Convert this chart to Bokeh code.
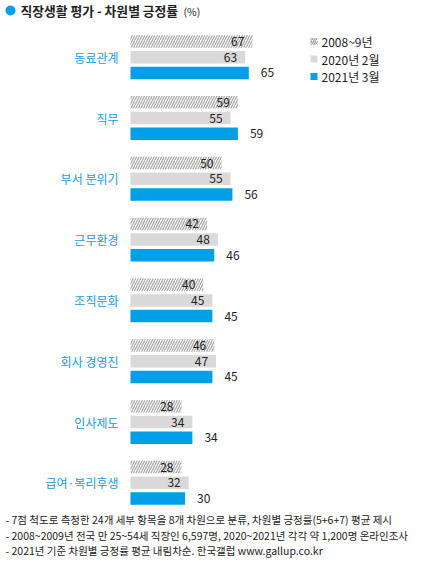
from bokeh.plotting import figure
from bokeh.models import Range1d, ColumnDataSource
from bokeh.core.properties import value
from bokeh.embed import file_html
from bokeh.resources import INLINE

categories = ["동료관계", "직무", "부서 분위기", "근무환경", "조직문화", "회사 경영진", "인사제도", "급여·복리후생"]
v2008 = [67, 59, 50, 42, 40, 46, 28, 28]
v2020 = [63, 55, 55, 48, 45, 47, 34, 32]
v2021 = [65, 59, 56, 46, 45, 45, 34, 30]
series = ["2008~9년", "2020년 2월", "2021년 3월"]
title = "직장생활 평가 - 차원별 긍정률"
title_unit = "(%)"
notes = [
    "- 7점 척도로 측정한 24개 세부 항목을 8개 차원으로 분류, 차원별 긍정률(5+6+7) 평균 제시",
    "- 2008~2009년 전국 만 25~54세 직장인 6,597명, 2020~2021년 각각 약 1,200명 온라인조사",
    "- 2021년 기준 차원별 긍정률 평균 내림차순. 한국갤럽 www.gallup.co.kr",
]

FONT = value("Noto Sans CJK KR")
BLUE = "#00a0e9"
GRAY = "#d9d9d9"
HATCH = "#ababab"
LBL = "#1a9be2"
TXT = "#222222"

W, H = 419, 558
X0 = 130.0      # pixel of value 0
PX = 1.82       # pixels per unit

def px(xpix):
    return (xpix - X0) / PX

p = figure(width=W, height=H, output_backend="svg", toolbar_location=None,
           x_range=Range1d(px(0), px(W)), y_range=Range1d(H, 0),
           min_border=0, outline_line_color=None)
p.xaxis.visible = False
p.yaxis.visible = False
p.grid.visible = False
p.background_fill_color = "white"
p.border_fill_color = "white"

PITCH = 60.8
Y_FIRST = 41.0
GAP = 15.7
BH = 12.5

idx = list(range(len(categories)))
y_a = [Y_FIRST + i * PITCH for i in idx]
y_b = [y + GAP for y in y_a]
y_c = [y + 2 * GAP for y in y_a]

src = ColumnDataSource(dict(cat=categories, a=v2008, b=v2020, c=v2021,
                            ya=y_a, yb=y_b, yc=y_c,
                            sa=[str(v) for v in v2008],
                            sb=[str(v) for v in v2020],
                            sc=[str(v) for v in v2021]))

p.hbar(y="ya", left=0, right="a", height=BH, source=src, fill_color="white",
       line_color=None, hatch_pattern="/", hatch_color=HATCH, hatch_scale=5,
       hatch_weight=1.3)
p.hbar(y="yb", left=0, right="b", height=BH, source=src, fill_color=GRAY, line_color=None)
p.hbar(y="yc", left=0, right="c", height=BH, source=src, fill_color=BLUE, line_color=None)

p.text(x="a", y="ya", text="sa", source=src, x_offset=-8, text_align="right",
       text_baseline="middle", text_font=FONT, text_font_size="12px", text_color=TXT)
p.text(x="b", y="yb", text="sb", source=src, x_offset=-8, text_align="right",
       text_baseline="middle", text_font=FONT, text_font_size="12px", text_color=TXT)
p.text(x="c", y="yc", text="sc", source=src, x_offset=12, text_align="left",
       text_baseline="middle", text_font=FONT, text_font_size="12px", text_color=TXT)

p.text(x=px(118), y="yb", text="cat", source=src, text_align="right",
       text_baseline="middle", text_font=FONT, text_font_size="12px", text_color=LBL)

# legend
ly = [41, 58.5, 76]
p.scatter(x=[px(313.5)], y=[ly[0]], marker="square", size=7, fill_color="white",
          line_color=None, hatch_pattern="/", hatch_color="#9a9a9a", hatch_scale=4,
          hatch_weight=1.2)
p.scatter(x=[px(313.5)], y=[ly[1]], marker="square", size=7, fill_color=GRAY, line_color=None)
p.scatter(x=[px(313.5)], y=[ly[2]], marker="square", size=7, fill_color=BLUE, line_color=None)
p.text(x=[px(321)] * 3, y=ly, text=series, text_align="left", text_baseline="middle",
       text_font=FONT, text_font_size="12px", text_color=TXT)

# title
p.scatter(x=[px(10)], y=[10], marker="circle", size=10, fill_color=BLUE, line_color=None)
p.text(x=[px(20)], y=[10], text=[title], text_align="left", text_baseline="middle",
       text_font=FONT, text_font_size="12.8px", text_font_style="bold", text_color=TXT)
p.text(x=[px(183)], y=[10.5], text=[title_unit], text_align="left", text_baseline="middle",
       text_font=FONT, text_font_size="10.5px", text_color=TXT)

# notes
ny = [519, 534.5, 549.5]
p.text(x=[px(5)] * 3, y=ny, text=notes, text_align="left", text_baseline="middle",
       text_font=FONT, text_font_size="10.5px", text_color=TXT)

open("out.html", "w").write(file_html(p, INLINE))
